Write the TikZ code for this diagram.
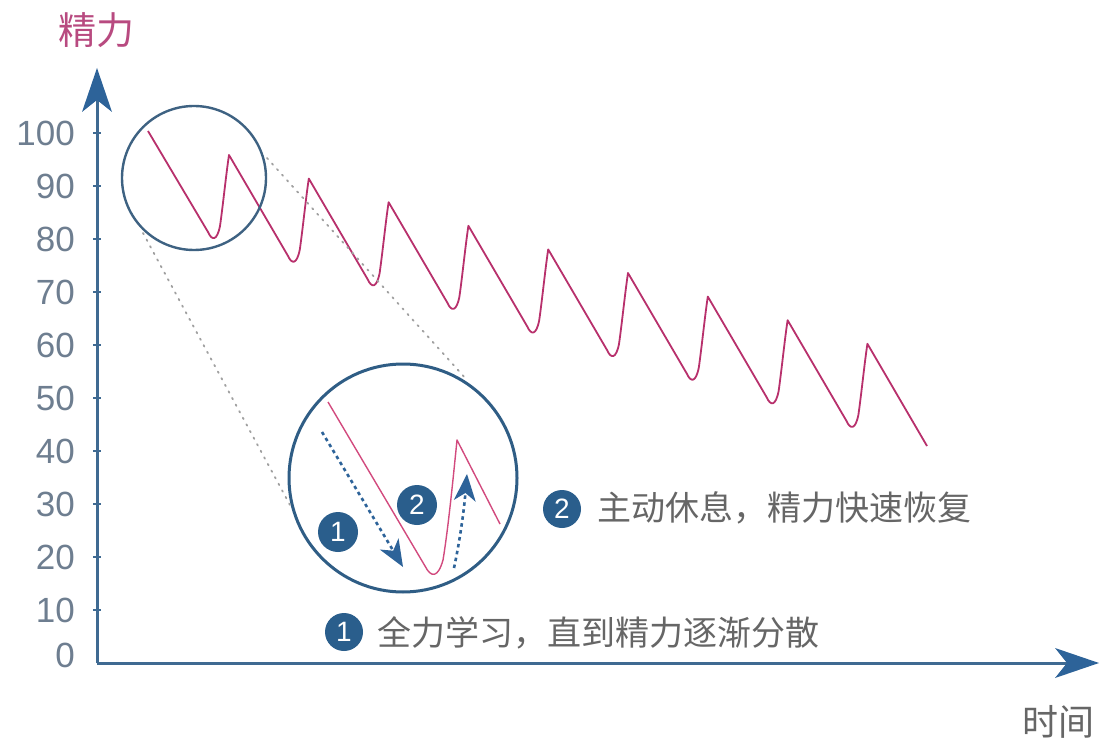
\documentclass[tikz,border=0pt]{standalone}
\usepackage{fontspec}
\setmainfont{Liberation Sans}
\newfontfamily\cjk{Noto Sans CJK SC}
\usetikzlibrary{arrows.meta}
\definecolor{axisblue}{HTML}{3F6A92}
\definecolor{headblue}{HTML}{2D6399}
\definecolor{circblue}{HTML}{2F5D85}
\definecolor{smallcirc}{HTML}{3E6282}
\definecolor{curvemag}{HTML}{B8306C}
\definecolor{innermag}{HTML}{D24A7E}
\definecolor{titlemag}{HTML}{B84A80}
\definecolor{ticklab}{HTML}{6E7E90}
\definecolor{txtgray}{HTML}{666666}
\definecolor{dotgray}{HTML}{A0A0A0}
\definecolor{badgeblue}{HTML}{2A5E8C}
\tikzset{
  axisline/.style={line width=3pt, draw=axisblue,
    -{Stealth[length=44pt,width=30pt,inset=12pt,fill=headblue,line width=0pt]}},
  ticklabel/.style={anchor=east, text=ticklab, inner sep=0pt,
    font=\fontsize{35}{35}\selectfont},
  tickmark/.style={line width=2.5pt, draw=axisblue},
  curve/.style={draw=curvemag, line width=1.8pt, line join=round},
  innercurve/.style={draw=innermag, line width=1.4pt, line join=round},
  zoomcircle/.style={circle, draw=circblue, line width=3pt, inner sep=0pt},
  guide/.style={draw=dotgray, line width=1.8pt, dash pattern=on 1.5pt off 6pt, line cap=round},
  flowarrow/.style={draw=headblue, line width=2.6pt, dash pattern=on 3.5pt off 3.5pt,
    -{Stealth[length=27pt,width=22pt,inset=8pt,fill=headblue,line width=0pt]}},
  badge/.style={circle, fill=badgeblue, text=white, inner sep=0pt,
    minimum size=38pt, font=\fontsize{28}{28}\selectfont},
  legendtext/.style={anchor=west, text=txtgray, inner sep=0pt,
    font=\cjk\fontsize{34}{34}\selectfont},
}
\begin{document}
\begin{tikzpicture}[x=1pt,y=-1pt]
\useasboundingbox[fill=white] (0,0) rectangle (1105,751);

% axes
\coordinate (O) at (97,663);
\coordinate (Ytip) at (97,68);
\coordinate (Xtip) at (1099,663);
\draw[axisline] (O) -- (Ytip);
\draw[axisline] (O) -- (Xtip);

% ticks and labels
\foreach \v in {10,20,...,100} {
  \draw[tickmark] ({93},{663-5.3*\v}) -- ({101},{663-5.3*\v});
  \node[ticklabel] (t\v) at (75,{663-5.3*\v}) {\v};
}
\node[ticklabel] (t0) at (75,655) {0};

% axis titles
\node[font=\cjk\fontsize{38}{38}\selectfont, text=titlemag] (ytitle) at (96,30) {精力};
\node[font=\cjk\fontsize{36}{36}\selectfont, text=txtgray] (xtitle) at (1058,722) {时间};

% main curve
\draw[curve] (148,131)
  \foreach \i in {0,...,8} {
    -- ({213+79.8*\i-5},{240+23.6*\i-8})
    .. controls ({213+79.8*\i-1},{240+23.6*\i+1}) and ({213+79.8*\i+4},{240+23.6*\i+1}) ..
       ({213+79.8*\i+7},{240+23.6*\i-14})
    .. controls ({213+79.8*\i+10},{240+23.6*\i-35}) and ({213+79.8*\i+13},{240+23.6*\i-65}) ..
       ({213+79.8*\i+16},{240+23.6*\i-85})
  } -- (927,446);

% zoom circles
\node[zoomcircle, draw=smallcirc, line width=2.4pt, minimum size=144pt] (small) at (194,178) {};
\node[zoomcircle, minimum size=228pt] (big) at (403,478) {};

% guide lines between circles
\coordinate (g1a) at (143,233);
\coordinate (g1b) at (290,505);
\coordinate (g2a) at (267,158);
\coordinate (g2b) at (467,380);
\draw[guide] (g1a) -- (g1b);
\draw[guide] (g2a) -- (g2b);

% magnified curve
\draw[innercurve] (328,402) -- (425,566)
  .. controls (431,578) and (438,578) .. (443,560)
  .. controls (448,530) and (453,480) .. (457,440)
  -- (500,524);

% flow arrows
\coordinate (a1s) at (322,432);
\coordinate (a1e) at (403,567);
\coordinate (a2s) at (454,568);
\coordinate (a2e) at (467,474);
\draw[flowarrow] (a1s) -- (a1e);
\draw[flowarrow] (a2s) .. controls (460,540) and (464,510) .. (a2e);

% badges
\node[badge, minimum size=40pt] (n1) at (338,532) {1};
\node[badge, minimum size=40pt] (n2) at (417,505) {2};
\node[badge] (l2) at (562,509) {2};
\node[badge] (l1) at (344,632) {1};

% legend texts
\node[legendtext] (txt2) at (597,508) {主动休息，精力快速恢复};
\node[legendtext] (txt1) at (377,633) {全力学习，直到精力逐渐分散};
\end{tikzpicture}
\end{document}
